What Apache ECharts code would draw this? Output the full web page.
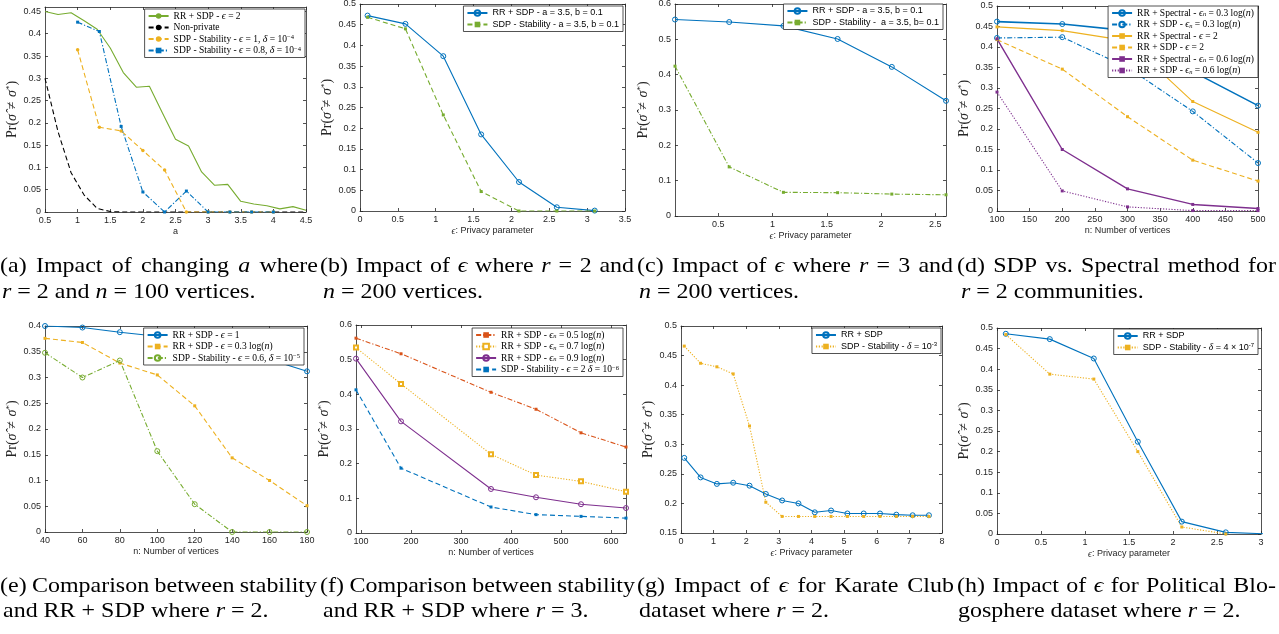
<!DOCTYPE html>
<html><head><meta charset="utf-8">
<script src="https://cdn.jsdelivr.net/npm/echarts@6/dist/echarts.min.js"></script>
<style>html,body{margin:0;padding:0;background:#fff}#c{width:1279px;height:634px}</style>
</head><body><div id="c"></div>
<script>
// ================= DATA =================
// (a) impact of changing a
const aXGreen = [0.5,0.7,0.9,1.1,1.3,1.5,1.7,1.9,2.1,2.3,2.5,2.7,2.9,3.1,3.3,3.5,3.7,3.9,4.1,4.3,4.5];
const aRRSDP  = [0.45,0.443,0.447,0.429,0.41,0.368,0.313,0.28,0.282,0.222,0.163,0.148,0.09,0.06,0.062,0.024,0.018,0.014,0.007,0.012,0.004];
const aNonPrivate = [0.30,0.18,0.088,0.038,0.008,0.001,0,0,0,0,0,0,0,0,0,0,0,0,0,0,0];
const aXStab = [1,1.333,1.667,2,2.333,2.667,3,3.333,3.667,4];
const aStabEps1  = [0.364,0.19,0.182,0.138,0.094,0,0,0,0,0];
const aStabEps08 = [0.426,0.405,0.192,0.045,0,0.047,0,0,0,0];
const aXTicks = [0.5,1,1.5,2,2.5,3,3.5,4,4.5];
const aYTicks = [0,0.05,0.1,0.15,0.2,0.25,0.3,0.35,0.4,0.45];
// (b)
const bX = [0.1,0.6,1.1,1.6,2.1,2.6,3.1];
const bRRSDP = [0.472,0.452,0.374,0.185,0.07,0.009,0.001];
const bStab  = [0.468,0.44,0.232,0.047,0,0,0];
const bXTicks = [0,0.5,1,1.5,2,2.5,3,3.5];
const bYTicks = [0,0.05,0.1,0.15,0.2,0.25,0.3,0.35,0.4,0.45,0.5];
// (c)
const cX = [0.1,0.6,1.1,1.6,2.1,2.6];
const cRRSDP = [0.556,0.549,0.538,0.501,0.422,0.326];
const cStab  = [0.424,0.139,0.067,0.066,0.062,0.06];
const cXTicks = [0.5,1,1.5,2,2.5];
const cYTicks = [0,0.1,0.2,0.3,0.4,0.5,0.6];
// (d)
const dX = [100,200,300,400,500];
const dSpec03 = [0.462,0.456,0.44,0.34,0.257];
const dSdp03  = [0.422,0.424,0.35,0.243,0.117];
const dSpec2  = [0.449,0.44,0.415,0.267,0.192];
const dSdp2   = [0.418,0.346,0.23,0.124,0.073];
const dSpec06 = [0.42,0.15,0.054,0.016,0.006];
const dSdp06  = [0.29,0.049,0.01,0.001,0.001];
const dXTicks = [100,150,200,250,300,350,400,450,500];
const dYTicks = [0,0.05,0.1,0.15,0.2,0.25,0.3,0.35,0.4,0.45,0.5];
// (e)
const eX = [40,60,80,100,120,140,160,180];
const eRREps1  = [0.4,0.397,0.388,0.38,0.37,0.355,0.335,0.312];
const eRREpsLog = [0.376,0.368,0.328,0.305,0.245,0.144,0.1,0.051];
const eStab = [0.348,0.3,0.333,0.157,0.054,0,0,0];
const eXTicks = [40,60,80,100,120,140,160,180];
const eYTicks = [0,0.05,0.1,0.15,0.2,0.25,0.3,0.35,0.4];
// (f)
const fX = [90,180,360,450,540,630];
const fEps05 = [0.562,0.517,0.406,0.357,0.289,0.248];
const fEps07 = [0.535,0.43,0.227,0.167,0.149,0.119];
const fEps09 = [0.503,0.322,0.127,0.103,0.083,0.072];
const fStab  = [0.413,0.187,0.075,0.053,0.048,0.043];
const fXTicks = [100,200,300,400,500,600];
const fYTicks = [0,0.1,0.2,0.3,0.4,0.5,0.6];
// (g)
const gX = [0.1,0.6,1.1,1.6,2.1,2.6,3.1,3.6,4.1,4.6,5.1,5.6,6.1,6.6,7.1,7.6];
const gRRSDP = [0.277,0.244,0.233,0.235,0.23,0.216,0.205,0.2,0.185,0.188,0.183,0.183,0.183,0.181,0.18,0.18];
const gStab  = [0.466,0.437,0.431,0.419,0.331,0.202,0.178,0.178,0.178,0.178,0.178,0.178,0.178,0.178,0.178,0.178];
const gXTicks = [0,1,2,3,4,5,6,7,8];
const gYTicks = [0.15,0.2,0.25,0.3,0.35,0.4,0.45,0.5];
// (h)
const hX = [0.1,0.6,1.1,1.6,2.1,2.6,3.1];
const hRRSDP = [0.486,0.473,0.426,0.224,0.03,0.004,0.0];
const hStab  = [0.484,0.388,0.376,0.2,0.017,0.0];
const hXTicks = [0,0.5,1,1.5,2,2.5,3];
const hYTicks = [0,0.05,0.1,0.15,0.2,0.25,0.3,0.35,0.4,0.45,0.5];

// ================= STYLE / LAYOUT =================
const COL = {blue:'#0072BD', orange:'#D95319', yellow:'#EDB120', purple:'#7E2F8E', green:'#77AC30', black:'#000000'};
const DASH = {solid:'solid', dash:[5,3], dashdot:[5,2,1.2,2], dot:[1.2,1.6]};
const AX = '#262626';
const SANS = 'Liberation Sans, Arial, sans-serif';
const SERIF = 'Liberation Serif, Times New Roman, serif';

const richCommon = (fam, fs) => ({
  i: {fontStyle:'italic', fontFamily:SERIF, fontSize:fs+0.5, color:'#000'},
  s: {fontSize:fs-3, fontFamily:fam, verticalAlign:'top', color:'#000', padding:[0,0,4,0]},
  si: {fontSize:fs-3, fontFamily:SERIF, fontStyle:'italic', verticalAlign:'bottom', color:'#000', padding:[3,0,0,0]}
});

const panels = [
 {grid:{left:45, top:7, width:261, height:205}, x:[0.5,4.5,aXTicks], y:[0,0.46,aYTicks], xName:'a',
  legend:{right:974, top:9, font:SERIF, fs:9.5},
  series:[
   ['RR + SDP - {i|ϵ} = 2', aXGreen, aRRSDP, COL.green, 'solid', 'none', 0],
   ['Non-private', aXGreen, aNonPrivate, COL.black, 'dash', 'none', 0],
   ['SDP - Stability - {i|ϵ} = 1, {i|δ} = 10{s|−4}', aXStab, aStabEps1, COL.yellow, 'dash', 'circle', 3.5],
   ['SDP - Stability - {i|ϵ} = 0.8, {i|δ} = 10{s|−4}', aXStab, aStabEps08, COL.blue, 'dashdot', 'rect', 3]
  ]},
 {grid:{left:360, top:4, width:265, height:207}, x:[0,3.5,bXTicks], y:[0,0.5,bYTicks], xName:'{i|ϵ}: Privacy parameter',
  legend:{right:656, top:6, font:SANS, fs:9},
  series:[
   ['RR + SDP - a = 3.5, b = 0.1', bX, bRRSDP, COL.blue, 'solid', 'ring', 5],
   ['SDP - Stability - a = 3.5, b = 0.1', bX, bStab, COL.green, 'dash', 'rect', 3]
  ]},
 {grid:{left:675, top:4, width:271, height:212}, x:[0.1,2.6,cXTicks], y:[0,0.6,cYTicks], xName:'{i|ϵ}: Privacy parameter',
  legend:{right:336, top:4, font:SANS, fs:9},
  series:[
   ['RR + SDP - a = 3.5, b = 0.1', cX, cRRSDP, COL.blue, 'solid', 'ring', 5],
   ['SDP - Stability -  a = 3.5, b= 0.1', cX, cStab, COL.green, 'dashdot', 'rect', 3]
  ]},
 {grid:{left:997, top:6, width:261, height:205}, x:[100,500,dXTicks], y:[0,0.5,dYTicks], xName:'n: Number of vertices',
  legend:{right:21, top:6, font:SERIF, fs:9.5},
  series:[
   ['RR + Spectral - {i|ϵ}{si|n} = 0.3 log({i|n})', dX, dSpec03, COL.blue, 'solid', 'ring', 5, 1.6],
   ['RR + SDP - {i|ϵ}{si|n} = 0.3 log({i|n})', dX, dSdp03, COL.blue, 'dashdot', 'ring', 5],
   ['RR + Spectral - {i|ϵ} = 2', dX, dSpec2, COL.yellow, 'solid', 'rect', 3],
   ['RR + SDP - {i|ϵ} = 2', dX, dSdp2, COL.yellow, 'dash', 'rect', 3],
   ['RR + Spectral - {i|ϵ}{si|n} = 0.6 log({i|n})', dX, dSpec06, COL.purple, 'solid', 'rect', 3, 1.4],
   ['RR + SDP - {i|ϵ}{si|n} = 0.6 log({i|n})', dX, dSdp06, COL.purple, 'dot', 'rect', 3]
  ]},
 {grid:{left:45, top:326, width:262, height:206}, x:[40,180,eXTicks], y:[0,0.4,eYTicks], xName:'n: Number of vertices',
  legend:{right:975, top:328, font:SERIF, fs:9.5},
  series:[
   ['RR + SDP - {i|ϵ} = 1', eX, eRREps1, COL.blue, 'solid', 'ring', 5],
   ['RR + SDP - {i|ϵ} = 0.3 log({i|n})', eX, eRREpsLog, COL.yellow, 'dash', 'rect', 3],
   ['SDP - Stability - {i|ϵ} = 0.6, {i|δ} = 10{s|−5}', eX, eStab, COL.green, 'dashdot', 'ring', 5]
  ]},
 {grid:{left:356, top:325, width:270, height:208}, x:[90,630,fXTicks], y:[0,0.6,fYTicks], xName:'n: Number of vertices',
  legend:{right:656, top:328, font:SERIF, fs:9.5},
  series:[
   ['RR + SDP - {i|ϵ}{si|n} = 0.5 log({i|n})', fX, fEps05, COL.orange, 'dashdot', 'rect', 3],
   ['RR + SDP - {i|ϵ}{si|n} = 0.7 log({i|n})', fX, fEps07, COL.yellow, 'dot', 'emptyRect', 4],
   ['RR + SDP - {i|ϵ}{si|n} = 0.9 log({i|n})', fX, fEps09, COL.purple, 'solid', 'ring', 5],
   ['SDP - Stability - {i|ϵ} = 2 {i|δ} = 10{s|−6}', fX, fStab, COL.blue, 'dash', 'rect', 3]
  ]},
 {grid:{left:681, top:326, width:261, height:207}, x:[0,8,gXTicks], y:[0.15,0.5,gYTicks], xName:'{i|ϵ}: Privacy parameter',
  legend:{right:338, top:328, font:SANS, fs:9},
  series:[
   ['RR + SDP', gX, gRRSDP, COL.blue, 'solid', 'ring', 5],
   ['SDP - Stability - {i|δ} = 10{s|-3}', gX, gStab, COL.yellow, 'dot', 'rect', 3]
  ]},
 {grid:{left:997, top:328, width:264, height:206}, x:[0,3,hXTicks], y:[0,0.5,hYTicks], xName:'{i|ϵ}: Privacy parameter',
  legend:{right:21, top:329, font:SANS, fs:9},
  series:[
   ['RR + SDP', hX, hRRSDP, COL.blue, 'solid', 'ring', 5],
   ['SDP - Stability - {i|δ} = 4 × 10{s|-7}', hX, hStab, COL.yellow, 'dot', 'rect', 3]
  ]}
];

// caption lines: [xStart, xEnd (justified) or null, yCenter, text]
const captions = [
 [0,318,266,'(a) Impact of changing {i|a} where'], [2,null,292,'{i|r} = 2 and {i|n} = 100 vertices.'],
 [320,634,266,'(b) Impact of {i|ϵ} where {i|r} = 2 and'], [323,null,292,'{i|n} = 200 vertices.'],
 [637,953,266,'(c) Impact of {i|ϵ} where {i|r} = 3 and'], [639,null,292,'{i|n} = 200 vertices.'],
 [957,1276,266,'(d) SDP vs. Spectral method for'], [961,null,292,'{i|r} = 2 communities.'],
 [0,317,586,'(e) Comparison between stability'], [3,null,611,'and RR + SDP where {i|r} = 2.'],
 [320,635,586,'(f) Comparison between stability'], [323,null,611,'and RR + SDP where {i|r} = 3.'],
 [637,954,586,'(g) Impact of {i|ϵ} for Karate Club'], [639,null,611,'dataset where {i|r} = 2.'],
 [957,1276,586,'(h) Impact of {i|ϵ} for Political Blo-'], [958,null,611,'gosphere dataset where {i|r} = 2.']
];

// ================= BUILD =================
const grids=[], xAxes=[], yAxes=[], series=[], legends=[], LABEL={};
const axisBase = (min,max,ticks,pos,labels,gi) => ({
  type:'value', gridIndex:gi, min, max, position:pos,
  axisLine:{show:true, onZero:false, lineStyle:{color:AX, width:0.8}},
  axisTick:{show:true, inside:true, length:3, customValues:ticks, lineStyle:{color:AX, width:0.8}},
  axisLabel:{show:labels, customValues:ticks, fontSize:9, color:AX, fontFamily:SANS, margin:4,
    formatter: v => String(+v.toFixed(3))},
  splitLine:{show:false}
});
panels.forEach((p,gi) => {
  grids.push(Object.assign({outerBoundsMode:'none', containLabel:false}, p.grid));
  const xa = axisBase(p.x[0],p.x[1],p.x[2],'bottom',true,gi);
  xa.name = p.xName; xa.nameLocation='middle'; xa.nameGap=15;
  xa.nameTextStyle = {fontSize:9, color:AX, fontFamily:SANS, rich:{i:{fontStyle:'italic', fontFamily:SERIF, fontSize:9.5, color:AX}}};
  xAxes.push(xa);
  xAxes.push(axisBase(p.x[0],p.x[1],p.x[2],'top',false,gi));
  const ya = axisBase(p.y[0],p.y[1],p.y[2],'left',true,gi);
  ya.name = 'Pr({i|σ̂}\u2004≠\u2004{i|σ}{s|*})'; ya.nameLocation='middle'; ya.nameGap=24; ya.nameRotate=90;
  ya.nameTextStyle = {fontSize:14, color:AX, fontFamily:SERIF,
    rich:{i:{fontStyle:'italic', fontFamily:SERIF, fontSize:14, color:AX}, s:{fontSize:9, fontFamily:SERIF, color:AX, verticalAlign:'top', padding:[0,0,6,0]}}};
  yAxes.push(ya);
  yAxes.push(axisBase(p.y[0],p.y[1],p.y[2],'right',false,gi));
  const names=[];
  p.series.forEach((s,si) => {
    const [label,xs,ys,color,dash,sym,size,lw] = s;
    const name = 'p' + gi + 's' + si;
    LABEL[name] = label;
    names.push(name);
    const ring = sym==='ring';
    series.push({
      type:'line', name, xAxisIndex:2*gi, yAxisIndex:2*gi, animation:false,
      data: ys.map((y,i)=>[xs[i],y]),
      symbol: sym==='none' ? 'none' : (ring ? 'circle' : sym),
      symbolSize: size, showSymbol: sym!=='none',
      lineStyle:{color, width: lw||1.1, type: DASH[dash]},
      itemStyle:{color: ring ? 'rgba(255,255,255,0)' : color, borderColor: color, borderWidth: ring||sym==='emptyRect' ? 1 : 0},
      emphasis:{disabled:true}, clip:true
    });
  });
  legends.push({
    data:names, orient:'vertical', right:p.legend.right, top:p.legend.top,
    backgroundColor:'#fff', borderColor:AX, borderWidth:0.8, padding:[2,4,2,3],
    itemWidth:20, itemHeight:7, itemGap:1.5, selectedMode:false,
    formatter: n => LABEL[n],
    textStyle:{fontSize:p.legend.fs, fontFamily:p.legend.font, color:'#000', lineHeight:10, rich:richCommon(p.legend.font, p.legend.fs)}
  });
});

// captions (justified first lines, word by word)
const CAP_FS = 21.8, CAP_SX = 1.1;
const mctx = document.createElement('canvas').getContext('2d');
function wordWidth(w){
  const m = w.match(/^\{i\|(.*)\}$/);
  mctx.font = (m ? 'italic ' : '') + CAP_FS + 'px ' + SERIF;
  return mctx.measureText(m ? m[1] : w).width * CAP_SX;
}
function capText(x, y, text){
  return {type:'text', x, y, scaleX:CAP_SX, scaleY:1,
    style:{text, fontSize:CAP_FS, fontFamily:SERIF, fill:'#000', verticalAlign:'middle', align:'left',
      rich:{i:{fontStyle:'italic', fontFamily:SERIF, fontSize:CAP_FS, fill:'#000'}}}};
}
const graphicEls = [];
captions.forEach(([x0,x1,y,text]) => {
  if (x1 === null) { graphicEls.push(capText(x0,y,text)); return; }
  const words = text.split(' ');
  const ws = words.map(wordWidth);
  const total = ws.reduce((s,v)=>s+v,0);
  const gap = (x1 - x0 - total) / (words.length - 1);
  let cx = x0;
  words.forEach((w,i) => { graphicEls.push(capText(cx,y,w)); cx += ws[i] + gap; });
});

const chart = echarts.init(document.getElementById('c'), null, {renderer:'canvas'});
chart.setOption({
  animation:false, backgroundColor:'#fff',
  grid:grids, xAxis:xAxes, yAxis:yAxes, series, legend:legends,
  graphic:{elements:graphicEls}
});
</script></body></html>
